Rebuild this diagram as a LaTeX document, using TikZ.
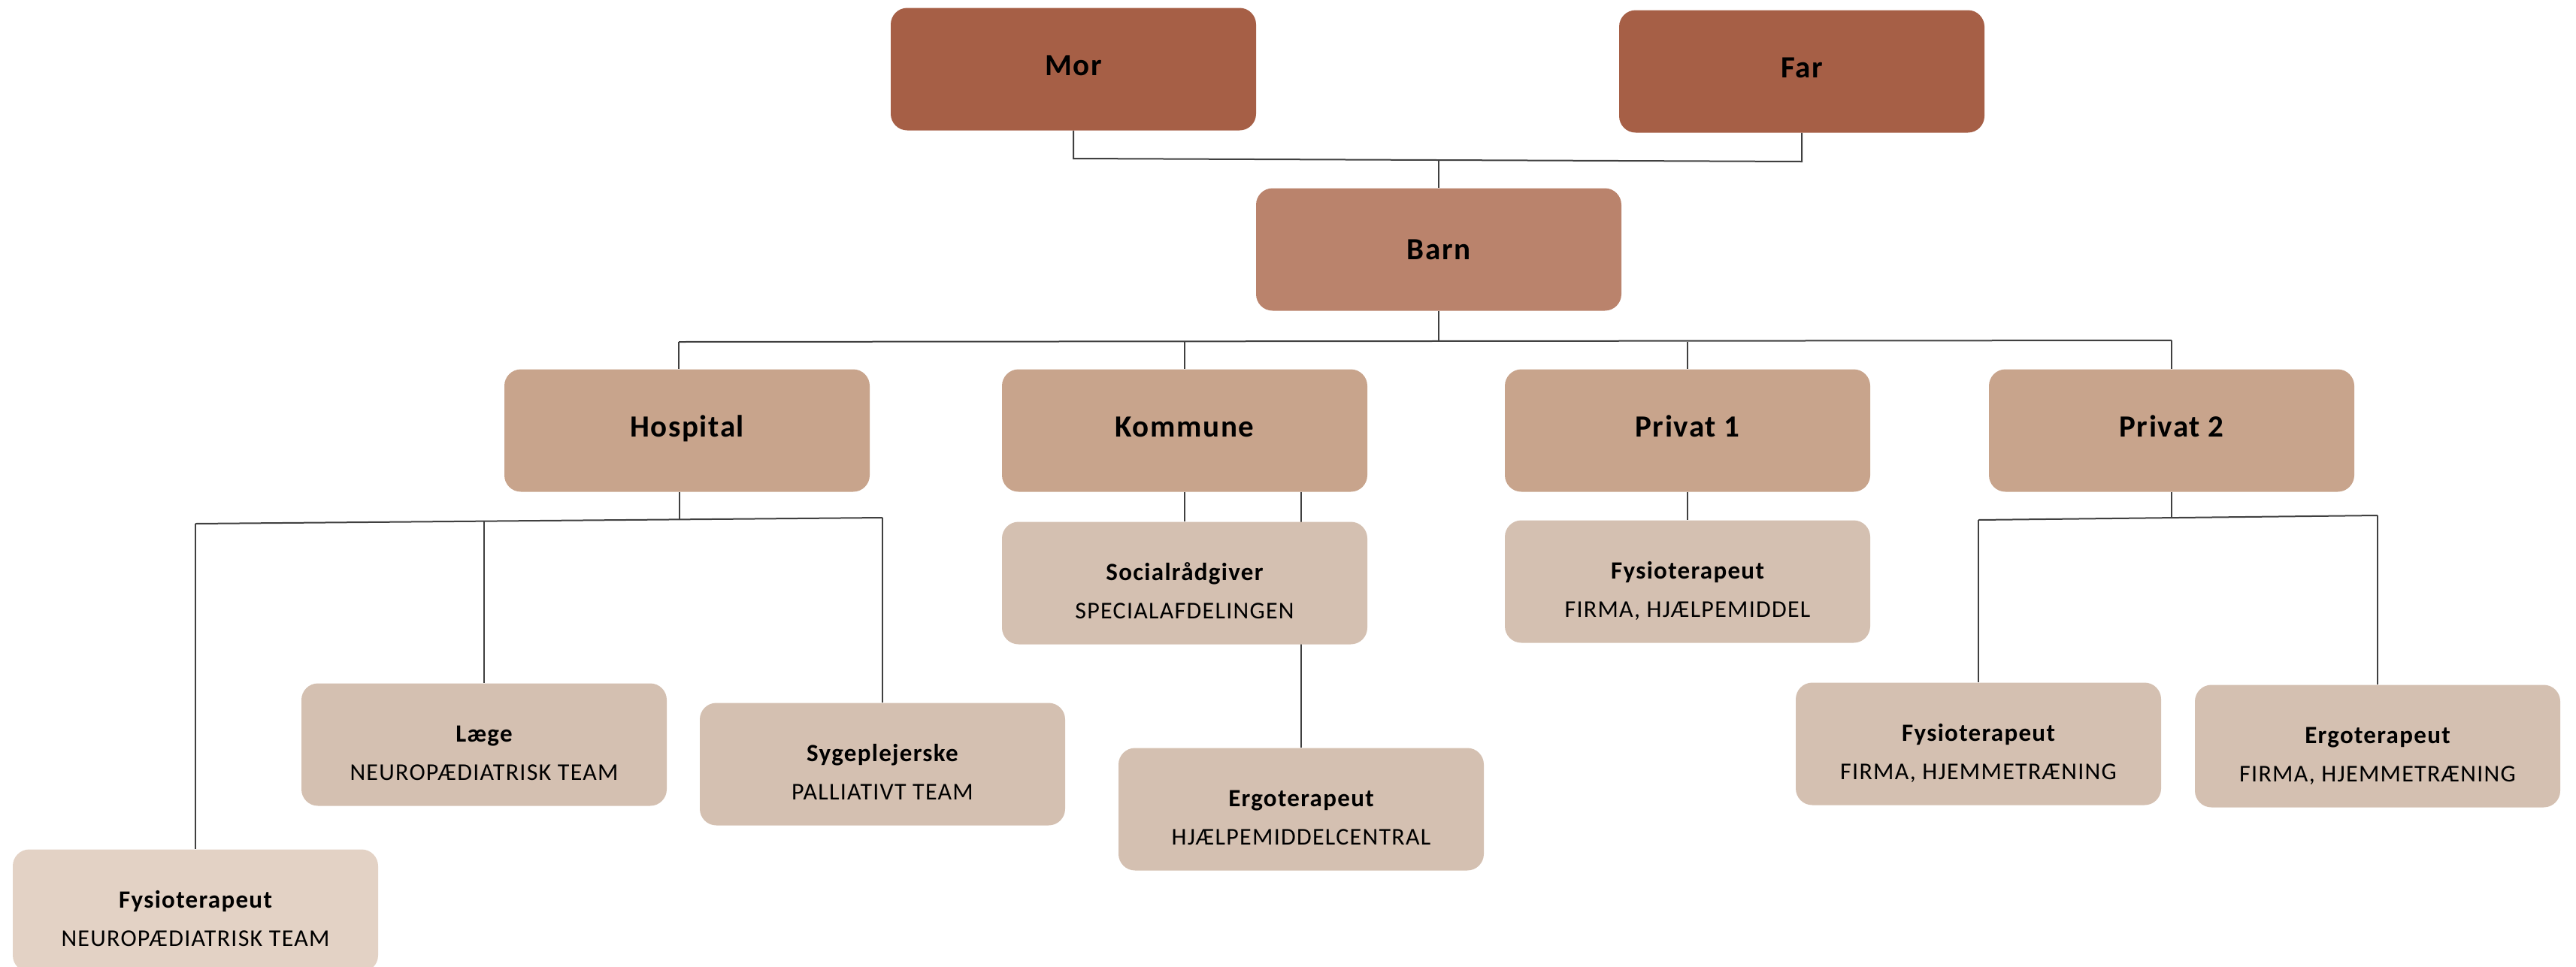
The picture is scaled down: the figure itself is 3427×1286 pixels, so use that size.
\documentclass[tikz,border=0pt]{standalone}
\usepackage{fontspec}
\setmainfont{Carlito}
\newfontfamily\spaced[LetterSpace=4]{Carlito}
\usetikzlibrary{backgrounds}
\definecolor{cparent}{HTML}{A65F46}
\definecolor{cchild}{HTML}{BA836C}
\definecolor{corg}{HTML}{C8A48C}
\definecolor{cpro}{HTML}{D4C0B1}
\definecolor{cprolight}{HTML}{E3D2C5}
\definecolor{cline}{HTML}{404040}
\newcommand\bigfnt{\spaced\bfseries\fontsize{41}{49}\selectfont}
\newcommand\titfnt{\spaced\bfseries\fontsize{33}{50}\selectfont}
\newcommand\subfnt{\spaced\mdseries\fontsize{32}{50}\selectfont}
\newcommand\two[2]{\begin{tabular}[t]{@{}c@{}}{\titfnt #1}\\[1pt]{\subfnt #2}\end{tabular}}
\begin{document}
\begin{tikzpicture}[x=1pt,y=-1pt,
  box/.style={rounded corners=22pt, minimum width=486pt, minimum height=163pt,
              inner sep=0pt, align=center, text=black},
  bigtext/.style={font=\bigfnt, text height=26pt, text depth=10pt},
  parentbox/.style={box, fill=cparent, bigtext},
  childbox/.style={box, fill=cchild, font=\bigfnt},
  orgbox/.style={box, fill=corg, bigtext},
  twotext/.style={font=\subfnt, text height=20pt, text depth=28pt},
  probox/.style={box, fill=cpro, twotext},
  prolight/.style={box, fill=cprolight, twotext},
  conn/.style={draw=cline, line width=2pt}]
\useasboundingbox (0,0) rectangle (3427,1286);
\clip (0,0) rectangle (3427,1286);

% level 0
\node[parentbox] (mor) at (1428,92) {Mor};
\node[parentbox] (far) at (2397,95) {Far};
% level 1
\node[childbox] (barn) at (1914,332) {Barn};
% level 2
\node[orgbox] (hospital) at (914,573) {Hospital};
\node[orgbox] (kommune) at (1576,573) {Kommune};
\node[orgbox] (privat1) at (2245,573) {Privat 1};
\node[orgbox] (privat2) at (2889,573) {Privat 2};
% level 3
\node[prolight] (fysioH) at (260,1212) {\two{Fysioterapeut}{NEUROPÆDIATRISK TEAM}};
\node[probox] (laege) at (644,991) {\two{Læge}{NEUROPÆDIATRISK TEAM}};
\node[probox] (syge) at (1174,1017) {\two{Sygeplejerske}{PALLIATIVT TEAM}};
\node[probox] (social) at (1576,776) {\two{Socialrådgiver}{SPECIALAFDELINGEN}};
\node[probox] (ergoK) at (1731,1077) {\two{Ergoterapeut}{HJÆLPEMIDDELCENTRAL}};
\node[probox] (fysioP1) at (2245,774) {\two{Fysioterapeut}{FIRMA, HJÆLPEMIDDEL}};
\node[probox] (fysioP2) at (2632,990) {\two{Fysioterapeut}{FIRMA, HJEMMETRÆNING}};
\node[probox] (ergoP2) at (3163,993) {\two{Ergoterapeut}{FIRMA, HJEMMETRÆNING}};

% junctions
\coordinate (jm) at (1428,211);
\coordinate (jf) at (2397,215);
\coordinate (jb) at (1914,213);
\coordinate (tl) at (903,455);
\coordinate (tr) at (2889,453);
\coordinate (tb) at (1914,454);
\coordinate (hj) at (904,692);
\coordinate (hl) at (260,697);
\coordinate (hm) at (644,694);
\coordinate (hr) at (1174,689);
\coordinate (pj) at (2889,689);
\coordinate (pl) at (2632,692);
\coordinate (pr) at (3163,686);

\begin{pgfonlayer}{background}
\draw[conn] (mor.south) -- (jm) -- (jf) -- (far.south);
\draw[conn] (jb) -- (barn.north);
\draw[conn] (barn.south) -- (tb);
\draw[conn] (tl) -- (tr);
\draw[conn] (tl) -- (tl |- hospital.north);
\draw[conn] (kommune.north |- tl) -- (kommune.north);
\draw[conn] (privat1.north |- tl) -- (privat1.north);
\draw[conn] (tr) -- (privat2.north);
% hospital
\draw[conn] (hj |- hospital.south) -- (hj);
\draw[conn] (hl) -- (hr);
\draw[conn] (hl) -- (fysioH.north);
\draw[conn] (hm) -- (laege.north);
\draw[conn] (hr) -- (syge.north);
% kommune
\draw[conn] (kommune.south) -- (social.north);
\draw[conn] (kommune.south -| ergoK.north) -- (ergoK.north);
% privat 1
\draw[conn] (privat1.south) -- (fysioP1.north);
% privat 2
\draw[conn] (privat2.south) -- (pj);
\draw[conn] (pl) -- (pr);
\draw[conn] (pl) -- (fysioP2.north);
\draw[conn] (pr) -- (ergoP2.north);
\end{pgfonlayer}
\end{tikzpicture}
\end{document}
